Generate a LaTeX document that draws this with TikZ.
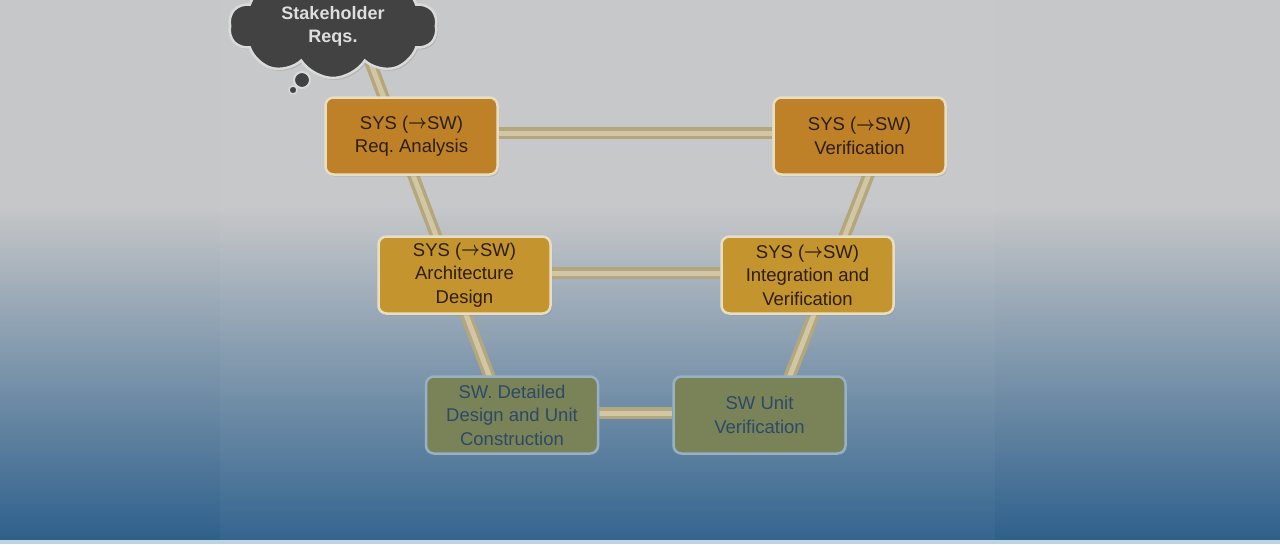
\documentclass[tikz,border=0pt]{standalone}
\usepackage{fontspec}
\usepackage{graphicx}
\setmainfont{Liberation Sans}
\usetikzlibrary{shapes.symbols,shadows}
\frenchspacing
\pgfdeclarelayer{bg}
\pgfdeclarelayer{conn}
\pgfsetlayers{bg,conn,main}
\definecolor{bgtop}{RGB}{198,199,200}
\definecolor{bgbot}{RGB}{46,96,140}
\definecolor{stripc}{RGB}{190,210,226}
\definecolor{ambA}{RGB}{190,129,39}
\definecolor{ambB}{RGB}{196,148,46}
\definecolor{oliv}{RGB}{122,131,88}
\definecolor{txtA}{RGB}{45,30,14}
\definecolor{txtB}{RGB}{44,74,104}
\definecolor{edgeA}{RGB}{232,222,196}
\definecolor{edgeB}{RGB}{150,178,196}
\definecolor{barD}{RGB}{180,167,125}
\definecolor{barL}{RGB}{210,199,165}
\definecolor{cloudF}{RGB}{66,66,66}
\definecolor{cloudE}{RGB}{218,218,218}
\definecolor{cloudT}{RGB}{222,222,222}
\newcommand{\rarr}{\raisebox{0.3pt}{\scalebox{0.95}[1.15]{\boldmath$\mathsurround=0pt\rightarrow$}}}
\tikzset{
  box/.style={rounded corners=8pt, minimum width=172pt, minimum height=77pt,
    line width=2.5pt, align=center, inner sep=2pt,
    font=\fontsize{18.5}{23.5}\selectfont,
    drop shadow={shadow xshift=1.5pt, shadow yshift=-2pt, opacity=0.25}},
  topbox/.style={box, fill=ambA, draw=edgeA, text=txtA},
  midbox/.style={box, fill=ambB, draw=edgeA, text=txtA},
  lowbox/.style={box, fill=oliv, draw=edgeB, text=txtB},
  bar/.style={draw=barD, line width=3.5pt, double=barL, double distance=5pt},
  thought/.style={cloud, cloud puffs=10, cloud puff arc=115, aspect=2,
    fill=cloudF, draw=cloudE, line width=2.5pt, text=cloudT, align=center,
    minimum width=208pt, minimum height=104pt, inner sep=0pt,
    font=\bfseries\fontsize{18}{23}\selectfont,
    drop shadow={shadow xshift=1.5pt, shadow yshift=-2pt, opacity=0.3}}
}
\begin{document}
\begin{tikzpicture}[x=1pt,y=-1pt]
\useasboundingbox (0,0) rectangle (1280,544);
\begin{pgfonlayer}{bg}
\fill[bgtop] (0,0) rectangle (1280,206);
\shade[top color=bgtop, bottom color=bgbot] (0,205) rectangle (1280,540);
\fill[white, opacity=0.03] (220,0) rectangle (995,540);
\fill[stripc] (0,540) rectangle (1280,544);
\end{pgfonlayer}

% cloud
\node[thought] (sreq) at (333,26) {Stakeholder\\Reqs.};
\draw[fill=cloudF, draw=cloudE, line width=2pt] (302,80) circle (8pt);
\draw[fill=cloudF, draw=cloudE, line width=1.5pt] (293,90) circle (4pt);

% nodes
\node[topbox] (req) at (411.5,136) {SYS (\rarr SW)\\Req. Analysis};
\node[topbox] (ver) at (859.5,136) {SYS (\rarr SW)\\Verification};
\node[midbox] (arch) at (464.5,275) {SYS (\rarr SW)\\Architecture\\Design};
\node[midbox] (integ) at (807.5,275) {SYS (\rarr SW)\\Integration and\\Verification};
\node[lowbox] (swd) at (512,415) {SW. Detailed\\Design and Unit\\Construction};
\node[lowbox] (swu) at (759.5,415) {SW Unit\\Verification};

% connectors
\coordinate (lt) at (368,56);
\coordinate (lb) at (490,378);
\coordinate (rt) at (869,174);
\coordinate (rb) at (789,378);
\begin{pgfonlayer}{conn}
\draw[bar] (lt) -- (lb);
\draw[bar] (rt) -- (rb);
\draw[bar] (req.east |- 0,133) -- (ver.west |- 0,133);
\draw[bar] (arch.east |- 0,273) -- (integ.west |- 0,273);
\draw[bar] (swd.east |- 0,413) -- (swu.west |- 0,413);
\end{pgfonlayer}
\end{tikzpicture}
\end{document}
